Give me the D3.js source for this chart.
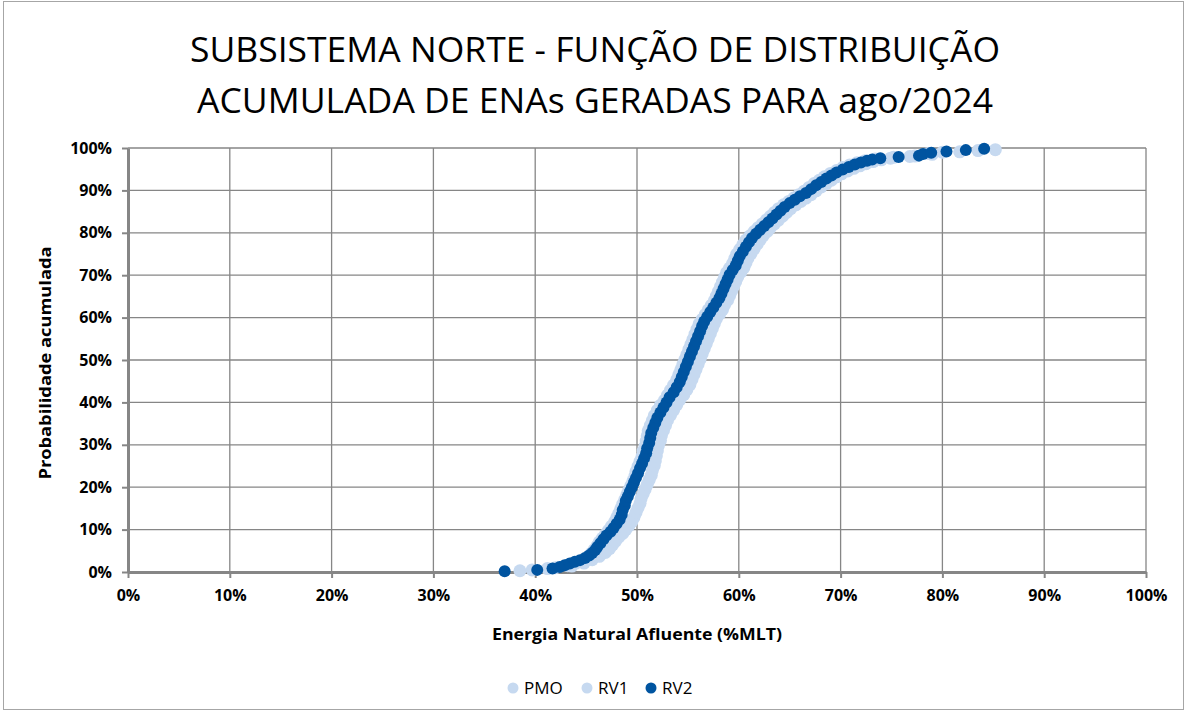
<!DOCTYPE html>
<html>
<head>
<meta charset="utf-8">
<script src="https://cdn.jsdelivr.net/npm/d3@7"></script>
<style>
    body { margin: 0; background: #fff; }
    svg { display: block; }
    text { font-family: "Open Sans", "DejaVu Sans", sans-serif; }
</style>
</head>
<body>
<div id="chart"></div>
<script>
// Chart data: [ENA (%MLT), probabilidade acumulada (%)]
const titleLines = ["SUBSISTEMA NORTE - FUNÇÃO DE DISTRIBUIÇÃO", "ACUMULADA DE ENAs GERADAS PARA ago/2024"];
const xTicks = [0, 10, 20, 30, 40, 50, 60, 70, 80, 90, 100];
const yTicks = [0, 10, 20, 30, 40, 50, 60, 70, 80, 90, 100];
const seriesNames = ["PMO", "RV1", "RV2"];
const seriesColors = ["#C6D9F0", "#C6D9F0", "#0054A0"];

const pmo = [
    [38.5,0.3],[41.2,0.8],[43.6,1.4],[44.8,2.1],[45.6,2.9],[46.3,3.7],[46.9,4.6],[47.3,5.5],[47.6,6.4],[47.9,7.3],
    [48.2,8.2],[48.6,9.1],[48.9,10.0],[49.2,10.9],[49.5,11.9],[49.7,12.9],[49.9,14.0],[50.1,15.1],[50.3,16.2],[50.4,17.3],
    [50.6,18.4],[50.8,19.5],[51.0,20.6],[51.2,21.7],[51.4,22.8],[51.5,23.9],[51.7,25.1],[51.8,26.2],[51.9,27.4],[52.0,28.6],
    [52.1,29.8],[52.3,31.0],[52.4,32.2],[52.6,33.4],[52.8,34.6],[53.0,35.8],[53.3,37.0],[53.6,38.2],[53.9,39.4],[54.2,40.6],
    [54.6,41.8],[54.9,43.0],[55.2,44.2],[55.4,45.4],[55.6,46.6],[55.8,47.8],[56.0,49.0],[56.2,50.2],[56.4,51.4],[56.6,52.6],
    [56.8,53.8],[57.0,55.0],[57.2,56.2],[57.4,57.4],[57.6,58.6],[57.8,59.7],[58.1,60.8],[58.4,61.9],[58.6,63.0],[58.9,64.1],
    [59.1,65.2],[59.3,66.3],[59.5,67.4],[59.7,68.5],[59.9,69.6],[60.2,70.7],[60.5,71.8],[60.7,72.9],[60.9,74.0],[61.2,75.1],
    [61.5,76.2],[61.8,77.3],[62.1,78.3],[62.4,79.3],[62.8,80.3],[63.1,81.2],[63.5,82.1],[63.9,83.0],[64.3,83.9],[64.7,84.8],
    [65.1,85.7],[65.6,86.6],[66.1,87.4],[66.6,88.2],[67.1,89.0],[67.6,89.9],[68.1,90.8],[68.6,91.6],[69.1,92.4],[69.6,93.2],
    [70.1,93.9],[70.7,94.6],[71.3,95.2],[71.9,95.8],[72.5,96.3],[73.2,96.8],[74.0,97.2],[74.9,97.6],[76.8,98.0],[79.0,98.5],
    [81.7,99.1],[85.2,99.6]
];

const rv1 = [
    [39.7,0.5],[42.0,1.0],[43.2,1.5],[44.0,2.1],[44.7,2.8],[45.2,3.6],[45.5,4.4],[45.8,5.3],[46.1,6.2],[46.3,7.1],
    [46.6,8.0],[46.9,8.9],[47.2,9.8],[47.5,10.8],[47.8,11.8],[48.0,12.8],[48.2,13.8],[48.4,14.9],[48.6,16.0],[48.8,17.1],
    [49.0,18.2],[49.2,19.3],[49.4,20.4],[49.6,21.5],[49.8,22.6],[49.9,23.7],[50.1,24.9],[50.3,26.1],[50.5,27.3],[50.6,28.5],
    [50.8,29.7],[50.9,30.9],[51.0,32.1],[51.1,33.3],[51.3,34.5],[51.5,35.7],[51.7,36.9],[52.0,38.1],[52.3,39.3],[52.7,40.5],
    [53.0,41.7],[53.3,42.9],[53.6,44.1],[53.9,45.3],[54.1,46.5],[54.3,47.7],[54.5,48.9],[54.7,50.1],[54.9,51.3],[55.1,52.5],
    [55.3,53.7],[55.5,54.9],[55.7,56.1],[55.9,57.3],[56.1,58.5],[56.4,59.6],[56.7,60.7],[57.0,61.8],[57.3,62.9],[57.6,64.0],
    [57.8,65.1],[58.0,66.2],[58.2,67.3],[58.4,68.4],[58.6,69.5],[58.8,70.6],[59.1,71.7],[59.4,72.8],[59.6,73.9],[59.8,75.0],
    [60.1,76.1],[60.4,77.2],[60.7,78.3],[61.1,79.3],[61.5,80.3],[61.9,81.2],[62.3,82.1],[62.7,83.0],[63.1,83.9],[63.5,84.8],
    [63.9,85.7],[64.4,86.6],[64.9,87.4],[65.4,88.2],[65.9,89.0],[66.4,89.8],[66.9,90.7],[67.4,91.6],[67.9,92.4],[68.4,93.2],
    [69.0,94.0],[69.6,94.7],[70.2,95.4],[70.9,96.0],[71.6,96.5],[72.4,97.0],[73.4,97.4],[75.2,97.8],[77.3,98.1],[78.6,98.7],
    [80.0,99.0],[83.5,99.4]
];

const rv2 = [
    [37.0,0.2],[40.2,0.5],[41.7,0.8],[42.4,1.2],[42.9,1.6],[43.4,2.0],[43.9,2.4],[44.4,2.8],[44.9,3.3],[45.3,3.9],
    [45.6,4.5],[45.9,5.2],[46.1,5.9],[46.4,6.8],[46.7,7.7],[47.0,8.6],[47.4,9.5],[47.7,10.4],[48.0,11.4],[48.3,12.4],
    [48.5,13.5],[48.6,14.6],[48.8,15.7],[48.9,16.8],[49.1,17.8],[49.3,18.9],[49.5,20.0],[49.7,21.1],[49.9,22.2],[50.1,23.3],
    [50.3,24.5],[50.5,25.6],[50.7,26.8],[50.9,28.0],[51.0,29.2],[51.2,30.4],[51.3,31.6],[51.4,32.8],[51.6,34.0],[51.8,35.2],
    [52.0,36.4],[52.3,37.6],[52.6,38.8],[52.9,40.0],[53.2,41.2],[53.6,42.4],[53.9,43.6],[54.2,44.8],[54.4,46.0],[54.6,47.2],
    [54.8,48.4],[55.0,49.6],[55.2,50.8],[55.4,52.0],[55.6,53.2],[55.8,54.4],[56.0,55.6],[56.2,56.8],[56.4,58.0],[56.6,59.1],
    [56.9,60.2],[57.2,61.3],[57.5,62.4],[57.8,63.5],[58.1,64.6],[58.3,65.7],[58.5,66.8],[58.7,67.9],[58.9,69.0],[59.1,70.1],
    [59.4,71.2],[59.7,72.3],[59.9,73.4],[60.1,74.5],[60.4,75.6],[60.7,76.7],[61.0,77.8],[61.3,78.8],[61.7,79.8],[62.1,80.7],
    [62.5,81.6],[62.9,82.5],[63.3,83.4],[63.7,84.3],[64.1,85.2],[64.5,86.1],[65.0,87.0],[65.5,87.8],[66.0,88.6],[66.6,89.4],
    [67.1,90.3],[67.6,91.2],[68.1,92.0],[68.6,92.8],[69.1,93.5],[69.6,94.2],[70.2,94.9],[70.8,95.5],[71.4,96.1],[72.0,96.6],
    [72.6,97.0],[73.1,97.3],[73.9,97.6],[75.7,97.9],[77.7,98.2],[78.1,98.6],[78.9,98.9],[80.4,99.2],[82.3,99.5],[84.1,99.8]
];

const seriesData = [pmo, rv1, rv2];

const width = 1187;
const height = 713;
const margin = { top: 148, right: 41, bottom: 141, left: 128 };
const innerW = width - margin.left - margin.right;
const innerH = height - margin.top - margin.bottom;
const axisColor = "#868686";

const svg = d3.select("#chart")
    .append("svg")
    .attr("width", width)
    .attr("height", height);

// chart border
svg.append("rect")
    .attr("x", 3.5)
    .attr("y", 1.5)
    .attr("width", width - 7)
    .attr("height", height - 5)
    .attr("fill", "#fff")
    .attr("stroke", "#A6A6A6")
    .attr("stroke-width", 1);

// title
svg.selectAll(".title")
    .data(titleLines)
    .join("text")
    .attr("class", "title")
    .attr("x", 595)
    .attr("y", (d, i) => 62 + i * 51)
    .attr("text-anchor", "middle")
    .attr("font-size", "35px")
    .attr("fill", "#000")
    .attr("textLength", (d, i) => i === 0 ? 810 : 796)
    .attr("lengthAdjust", "spacingAndGlyphs")
    .text(d => d);

const x = d3.scaleLinear().domain([0, 100]).range([0, innerW]);
const y = d3.scaleLinear().domain([0, 100]).range([innerH, 0]);

const g = svg.append("g")
    .attr("transform", `translate(${margin.left},${margin.top})`);

// gridlines
g.append("g")
    .selectAll("line")
    .data(yTicks.filter(t => t > 0))
    .join("line")
    .attr("x1", 0)
    .attr("x2", innerW)
    .attr("y1", d => y(d))
    .attr("y2", d => y(d))
    .attr("stroke", axisColor)
    .attr("stroke-width", 1.3);

g.append("g")
    .selectAll("line")
    .data(xTicks.filter(t => t > 0))
    .join("line")
    .attr("x1", d => x(d))
    .attr("x2", d => x(d))
    .attr("y1", 0)
    .attr("y2", innerH)
    .attr("stroke", axisColor)
    .attr("stroke-width", 1.3);

// axes
const xAxis = g.append("g")
    .attr("transform", `translate(0,${innerH})`)
    .call(d3.axisBottom(x).tickValues(xTicks).tickFormat(d => d + "%").tickSizeInner(6).tickSizeOuter(0).tickPadding(12));

const yAxis = g.append("g")
    .call(d3.axisLeft(y).tickValues(yTicks).tickFormat(d => d + "%").tickSizeInner(6).tickSizeOuter(0).tickPadding(10));

[xAxis, yAxis].forEach(a => {
    a.select(".domain").attr("stroke", axisColor).attr("stroke-width", 3);
    a.selectAll(".tick line").attr("stroke", axisColor).attr("stroke-width", 2);
    a.selectAll(".tick text")
        .attr("fill", "#000")
        .attr("font-size", "16px")
        .attr("font-weight", "bold")
        .style("font-family", "'Open Sans', sans-serif");
});

// points
seriesData.forEach((data, si) => {
    g.append("g")
        .selectAll("circle")
        .data(data)
        .join("circle")
        .attr("cx", d => x(d[0]))
        .attr("cy", d => y(d[1]))
        .attr("r", si === 2 ? 6 : 6.5)
        .attr("fill", seriesColors[si]);
});

// axis titles
svg.append("text")
    .attr("x", 637)
    .attr("y", 640)
    .attr("text-anchor", "middle")
    .attr("font-size", "16px")
    .attr("font-weight", "bold")
    .attr("textLength", 290)
    .attr("lengthAdjust", "spacingAndGlyphs")
    .text("Energia Natural Afluente (%MLT)");

svg.append("text")
    .attr("transform", "translate(51,363) rotate(-90)")
    .attr("text-anchor", "middle")
    .attr("font-size", "16px")
    .attr("font-weight", "bold")
    .attr("textLength", 233)
    .attr("lengthAdjust", "spacingAndGlyphs")
    .text("Probabilidade acumulada");

// legend
const legendX = [513, 587, 651];
const legend = svg.append("g")
    .selectAll("g")
    .data(seriesNames)
    .join("g")
    .attr("transform", (d, i) => `translate(${legendX[i]},688)`);

legend.append("circle")
    .attr("r", 5.5)
    .attr("fill", (d, i) => seriesColors[i]);

legend.append("text")
    .attr("x", 11)
    .attr("dy", "0.36em")
    .attr("font-size", "17px")
    .attr("fill", "#000")
    .text(d => d);
</script>
</body>
</html>
